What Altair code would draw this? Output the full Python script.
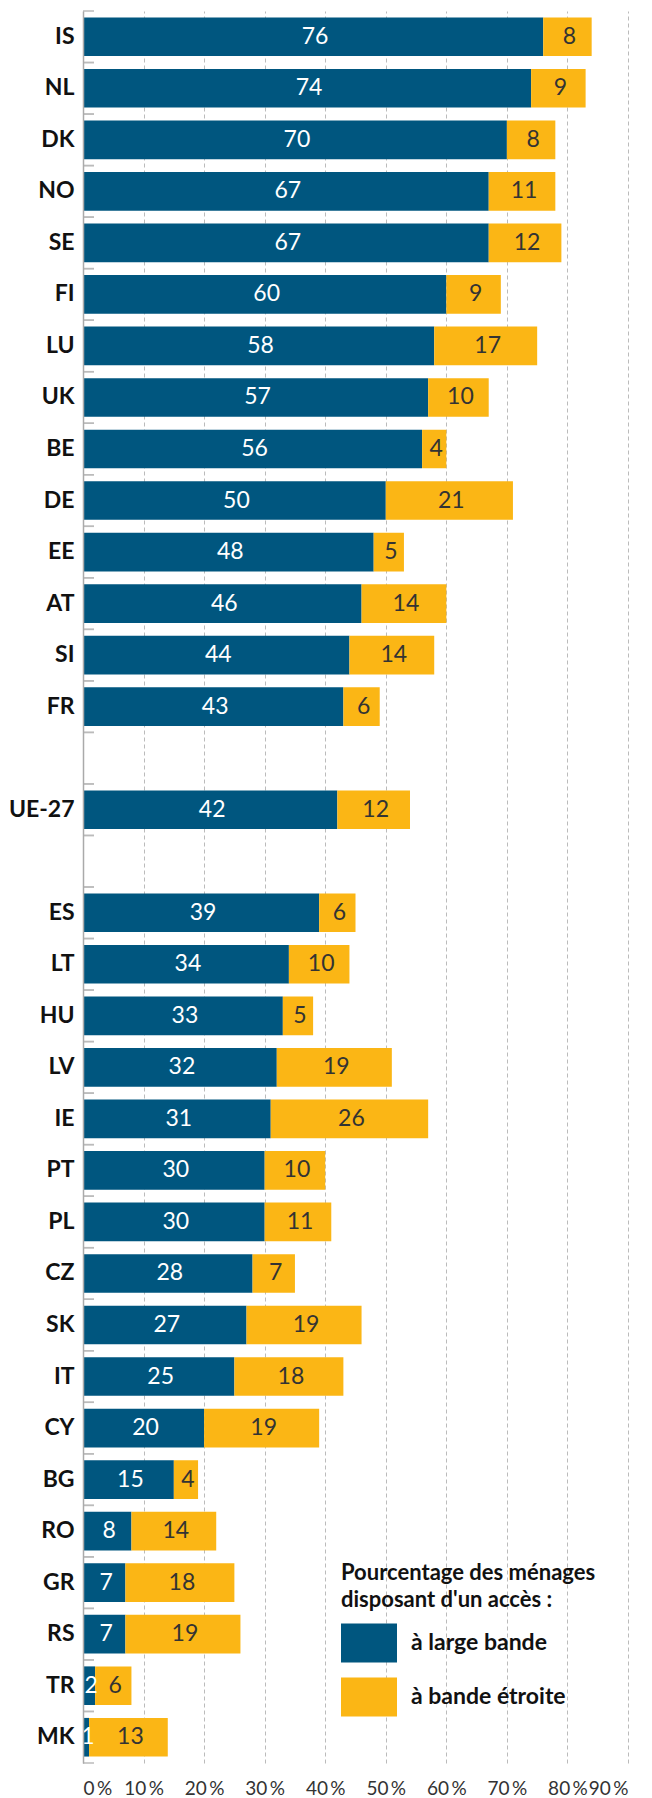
import altair as alt
import pandas as pd

countries = ["IS", "NL", "DK", "NO", "SE", "FI", "LU", "UK", "BE", "DE", "EE", "AT", "SI", "FR",
             "UE-27",
             "ES", "LT", "HU", "LV", "IE", "PT", "PL", "CZ", "SK", "IT", "CY", "BG", "RO", "GR", "RS", "TR", "MK"]
broadband = [76, 74, 70, 67, 67, 60, 58, 57, 56, 50, 48, 46, 44, 43,
             42,
             39, 34, 33, 32, 31, 30, 30, 28, 27, 25, 20, 15, 8, 7, 7, 2, 1]
narrowband = [8, 9, 8, 11, 12, 9, 17, 10, 4, 21, 5, 14, 14, 6,
              12,
              6, 10, 5, 19, 26, 10, 11, 7, 19, 18, 19, 4, 14, 18, 19, 6, 13]
series = ["à large bande", "à bande étroite"]
colors = ["#00567f", "#fbb615"]
x_ticks = [0, 10, 20, 30, 40, 50, 60, 70, 80, 90]
legend_title = ["Pourcentage des ménages", "disposant d'un accès :"]

# category order including the two empty separator rows around UE-27
order = countries[:14] + ["_gap1", "UE-27", "_gap2"] + countries[15:]

rows = []
for c, b, n in zip(countries, broadband, narrowband):
    rows.append({"country": c, "series": series[0], "k": 0, "value": b})
    rows.append({"country": c, "series": series[1], "k": 1, "value": n})
df = pd.DataFrame(rows)
slots = pd.DataFrame({"country": order})

FONT = "Lato"
W, H = 545, 1752

yscale = alt.Scale(domain=order, paddingInner=0, paddingOuter=0)
xscale = alt.Scale(domain=[0, 90], nice=False)

yaxis = alt.Axis(
    title=None, ticks=False, domain=True, domainColor="#aaaaaa", domainWidth=1.5,
    labelFont=FONT, labelFontSize=23, labelFontWeight="bold", labelColor="#111111",
    labelPadding=9, labelExpr="indexof(datum.label, '_gap') == 0 ? '' : datum.label",
    zindex=1,
)
xaxis = alt.Axis(
    title=None, values=x_ticks, labelExpr="datum.value + '\u2009%'", grid=True,
    gridDash=[4, 3], gridColor="#bbbbbb", gridWidth=1, ticks=False, domain=False,
    labelFont=FONT, labelFontSize=19, labelColor="#333333", labelPadding=16,
    labelOverlap=False,
)

base = alt.Chart(df)

bars = base.mark_bar(height={"band": 0.75}).encode(
    y=alt.Y("country:N", scale=yscale, axis=yaxis, sort=order),
    x=alt.X("value:Q", stack="zero", scale=xscale, axis=xaxis),
    color=alt.Color(
        "series:N",
        scale=alt.Scale(domain=series, range=colors),
        legend=alt.Legend(
            title=legend_title, orient="none", legendX=258, legendY=1552,
            symbolType="M-1,-0.696H1V0.696H-1Z", symbolSize=3136,
            symbolStrokeWidth=0, symbolOpacity=1,
            labelFont=FONT, labelFontSize=23, labelFontWeight="bold", labelColor="#111111",
            titleFont=FONT, titleFontSize=22, titleFontWeight="bold", titleColor="#111111",
            titleLineHeight=27, titlePadding=3, rowPadding=6, labelOffset=14,
            titleLimit=400, labelLimit=300,
        ),
    ),
    order=alt.Order("k:Q"),
)

stacked = base.transform_stack(
    stack="value", groupby=["country"], as_=["v0", "v1"],
    sort=[alt.SortField("k", order="ascending")],
).transform_calculate(mid="(datum.v0 + datum.v1) / 2")

text_blue = stacked.transform_filter("datum.k == 0").mark_text(
    font=FONT, fontSize=23, color="#ffffff", baseline="middle", align="center", dx=2
).encode(
    y=alt.Y("country:N", sort=order),
    x=alt.X("mid:Q"),
    text=alt.Text("value:Q"),
)
text_yellow = stacked.transform_filter("datum.k == 1").mark_text(
    font=FONT, fontSize=23, color="#333333", baseline="middle", align="center", dx=2
).encode(
    y=alt.Y("country:N", sort=order),
    x=alt.X("mid:Q"),
    text=alt.Text("value:Q"),
)

ticks_top = alt.Chart(slots).mark_rule(color="#bbbbbb", strokeWidth=1.5).encode(
    y=alt.Y("country:N", sort=order, bandPosition=0),
    x=alt.value(0), x2=alt.value(11),
)
ticks_bottom = alt.Chart(slots).mark_rule(color="#bbbbbb", strokeWidth=1.5).encode(
    y=alt.Y("country:N", sort=order, bandPosition=1),
    x=alt.value(0), x2=alt.value(11),
)

chart = alt.layer(bars, text_blue, text_yellow, ticks_top, ticks_bottom).properties(
    width=W, height=H,
    autosize=alt.AutoSizeParams(type="none"),
    padding={"left": 75, "top": 3, "right": 10, "bottom": 45},
).configure_view(stroke=None)

chart.save("out.html", embed_options={"renderer": "svg", "actions": False})
